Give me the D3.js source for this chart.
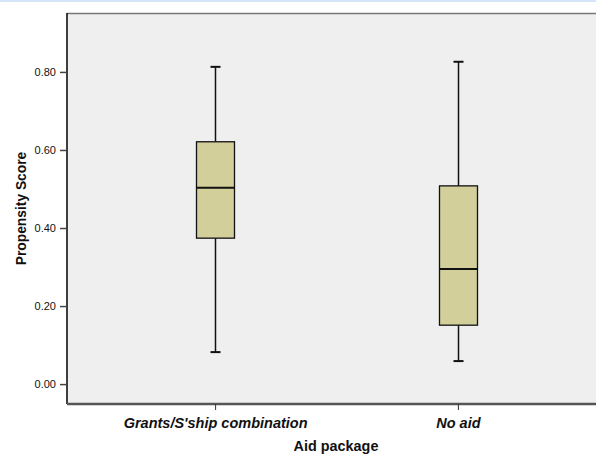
<!DOCTYPE html>
<html>
<head>
<meta charset="utf-8">
<script src="https://cdn.jsdelivr.net/npm/d3@7"></script>
<style>
  body { margin: 0; background: #fff; }
  svg { display: block; font-family: "Liberation Sans", Arial, sans-serif; }
</style>
</head>
<body>
<div id="chart"></div>
<script>
// values
var categories = ["Grants/S'ship combination", "No aid"]
var whiskerLow = [0.082, 0.059]
var q1 = [0.374, 0.151]
var median = [0.503, 0.295]
var q3 = [0.621, 0.508]
var whiskerHigh = [0.813, 0.826]
var yTicks = [0, 0.2, 0.4, 0.6, 0.8]

var width = 596, height = 454
var plot = {left: 67, top: 13, right: 606, bottom: 404}

var svg = d3.select("#chart").append("svg")
    .attr("width", width)
    .attr("height", height)

// thin blue strip on the very top edge
svg.append("rect")
    .attr("x", 0).attr("y", 0)
    .attr("width", width).attr("height", 2)
    .attr("fill", "#d5e5f7")

var y = d3.scaleLinear()
    .domain([-0.051, 0.951])
    .range([plot.bottom, plot.top])

var x = d3.scalePoint()
    .domain(categories)
    .range([plot.left, plot.right])
    .padding(0.61)

svg.append("rect")
    .attr("x", plot.left)
    .attr("y", plot.top)
    .attr("width", plot.right - plot.left)
    .attr("height", plot.bottom - plot.top)
    .attr("fill", "#efefef")

// frame
svg.append("line")
    .attr("x1", plot.left).attr("x2", plot.right)
    .attr("y1", plot.top + 0.5).attr("y2", plot.top + 0.5)
    .attr("stroke", "#777").attr("stroke-width", 1.5)

var boxData = categories.map((c, i) => ({
  cat: c, lo: whiskerLow[i], q1: q1[i], med: median[i], q3: q3[i], hi: whiskerHigh[i]
}))

var boxW = 38, capW = 10

var boxes = svg.append("g").selectAll("g")
  .data(boxData)
  .join("g")
    .attr("transform", d => `translate(${Math.round(x(d.cat)) + 0.5},0)`)

boxes.append("line")
    .attr("y1", d => y(d.hi)).attr("y2", d => y(d.q3))
    .attr("stroke", "#111").attr("stroke-width", 1.5)

boxes.append("line")
    .attr("y1", d => y(d.q1)).attr("y2", d => y(d.lo))
    .attr("stroke", "#111").attr("stroke-width", 1.5)

boxes.append("line")
    .attr("x1", -capW / 2).attr("x2", capW / 2)
    .attr("y1", d => y(d.hi)).attr("y2", d => y(d.hi))
    .attr("stroke", "#111").attr("stroke-width", 2)

boxes.append("line")
    .attr("x1", -capW / 2).attr("x2", capW / 2)
    .attr("y1", d => y(d.lo)).attr("y2", d => y(d.lo))
    .attr("stroke", "#111").attr("stroke-width", 2)

boxes.append("rect")
    .attr("x", -boxW / 2)
    .attr("width", boxW)
    .attr("y", d => y(d.q3))
    .attr("height", d => y(d.q1) - y(d.q3))
    .attr("fill", "#d3cf9a")
    .attr("stroke", "#111").attr("stroke-width", 1.3)

boxes.append("line")
    .attr("x1", -boxW / 2).attr("x2", boxW / 2)
    .attr("y1", d => y(d.med)).attr("y2", d => y(d.med))
    .attr("stroke", "#111").attr("stroke-width", 2)

// y axis
var yAxis = svg.append("g")
    .attr("transform", `translate(${plot.left},0)`)
    .call(d3.axisLeft(y).tickValues(yTicks).tickFormat(d3.format(".2f")).tickSize(7).tickSizeOuter(0))

yAxis.select(".domain").attr("stroke", "#000").attr("stroke-width", 1.5)
    .attr("d", `M0,${plot.top}V${plot.bottom}`)
yAxis.selectAll(".tick line").attr("stroke", "#444").attr("stroke-width", 1.5)
yAxis.selectAll(".tick text")
    .attr("x", -11)
    .attr("font-size", 11)
    .attr("font-family", "'Liberation Sans', Arial, sans-serif")
    .attr("fill", "#111")

// x axis
var xAxis = svg.append("g")
    .attr("transform", `translate(0,${plot.bottom})`)
    .call(d3.axisBottom(x).tickSize(6).tickSizeOuter(0))

xAxis.select(".domain").attr("stroke", "#555").attr("stroke-width", 2.5)
    .attr("d", `M${plot.left},0H${plot.right}`)
xAxis.selectAll(".tick line").attr("stroke", "#333").attr("stroke-width", 1)
xAxis.selectAll(".tick text")
    .attr("y", 14)
    .attr("font-size", 14.5)
    .attr("font-weight", "bold")
    .attr("font-style", "italic")
    .attr("font-family", "'Liberation Sans', Arial, sans-serif")
    .attr("fill", "#111")

svg.append("text")
    .attr("x", 336)
    .attr("y", 451)
    .attr("text-anchor", "middle")
    .attr("font-size", 14.4)
    .attr("font-weight", "bold")
    .attr("fill", "#111")
    .text("Aid package")

svg.append("text")
    .attr("transform", `translate(26,${(plot.top + plot.bottom) / 2}) rotate(-90)`)
    .attr("text-anchor", "middle")
    .attr("font-size", 13.8)
    .attr("font-weight", "bold")
    .attr("fill", "#111")
    .text("Propensity Score")
</script>
</body>
</html>
